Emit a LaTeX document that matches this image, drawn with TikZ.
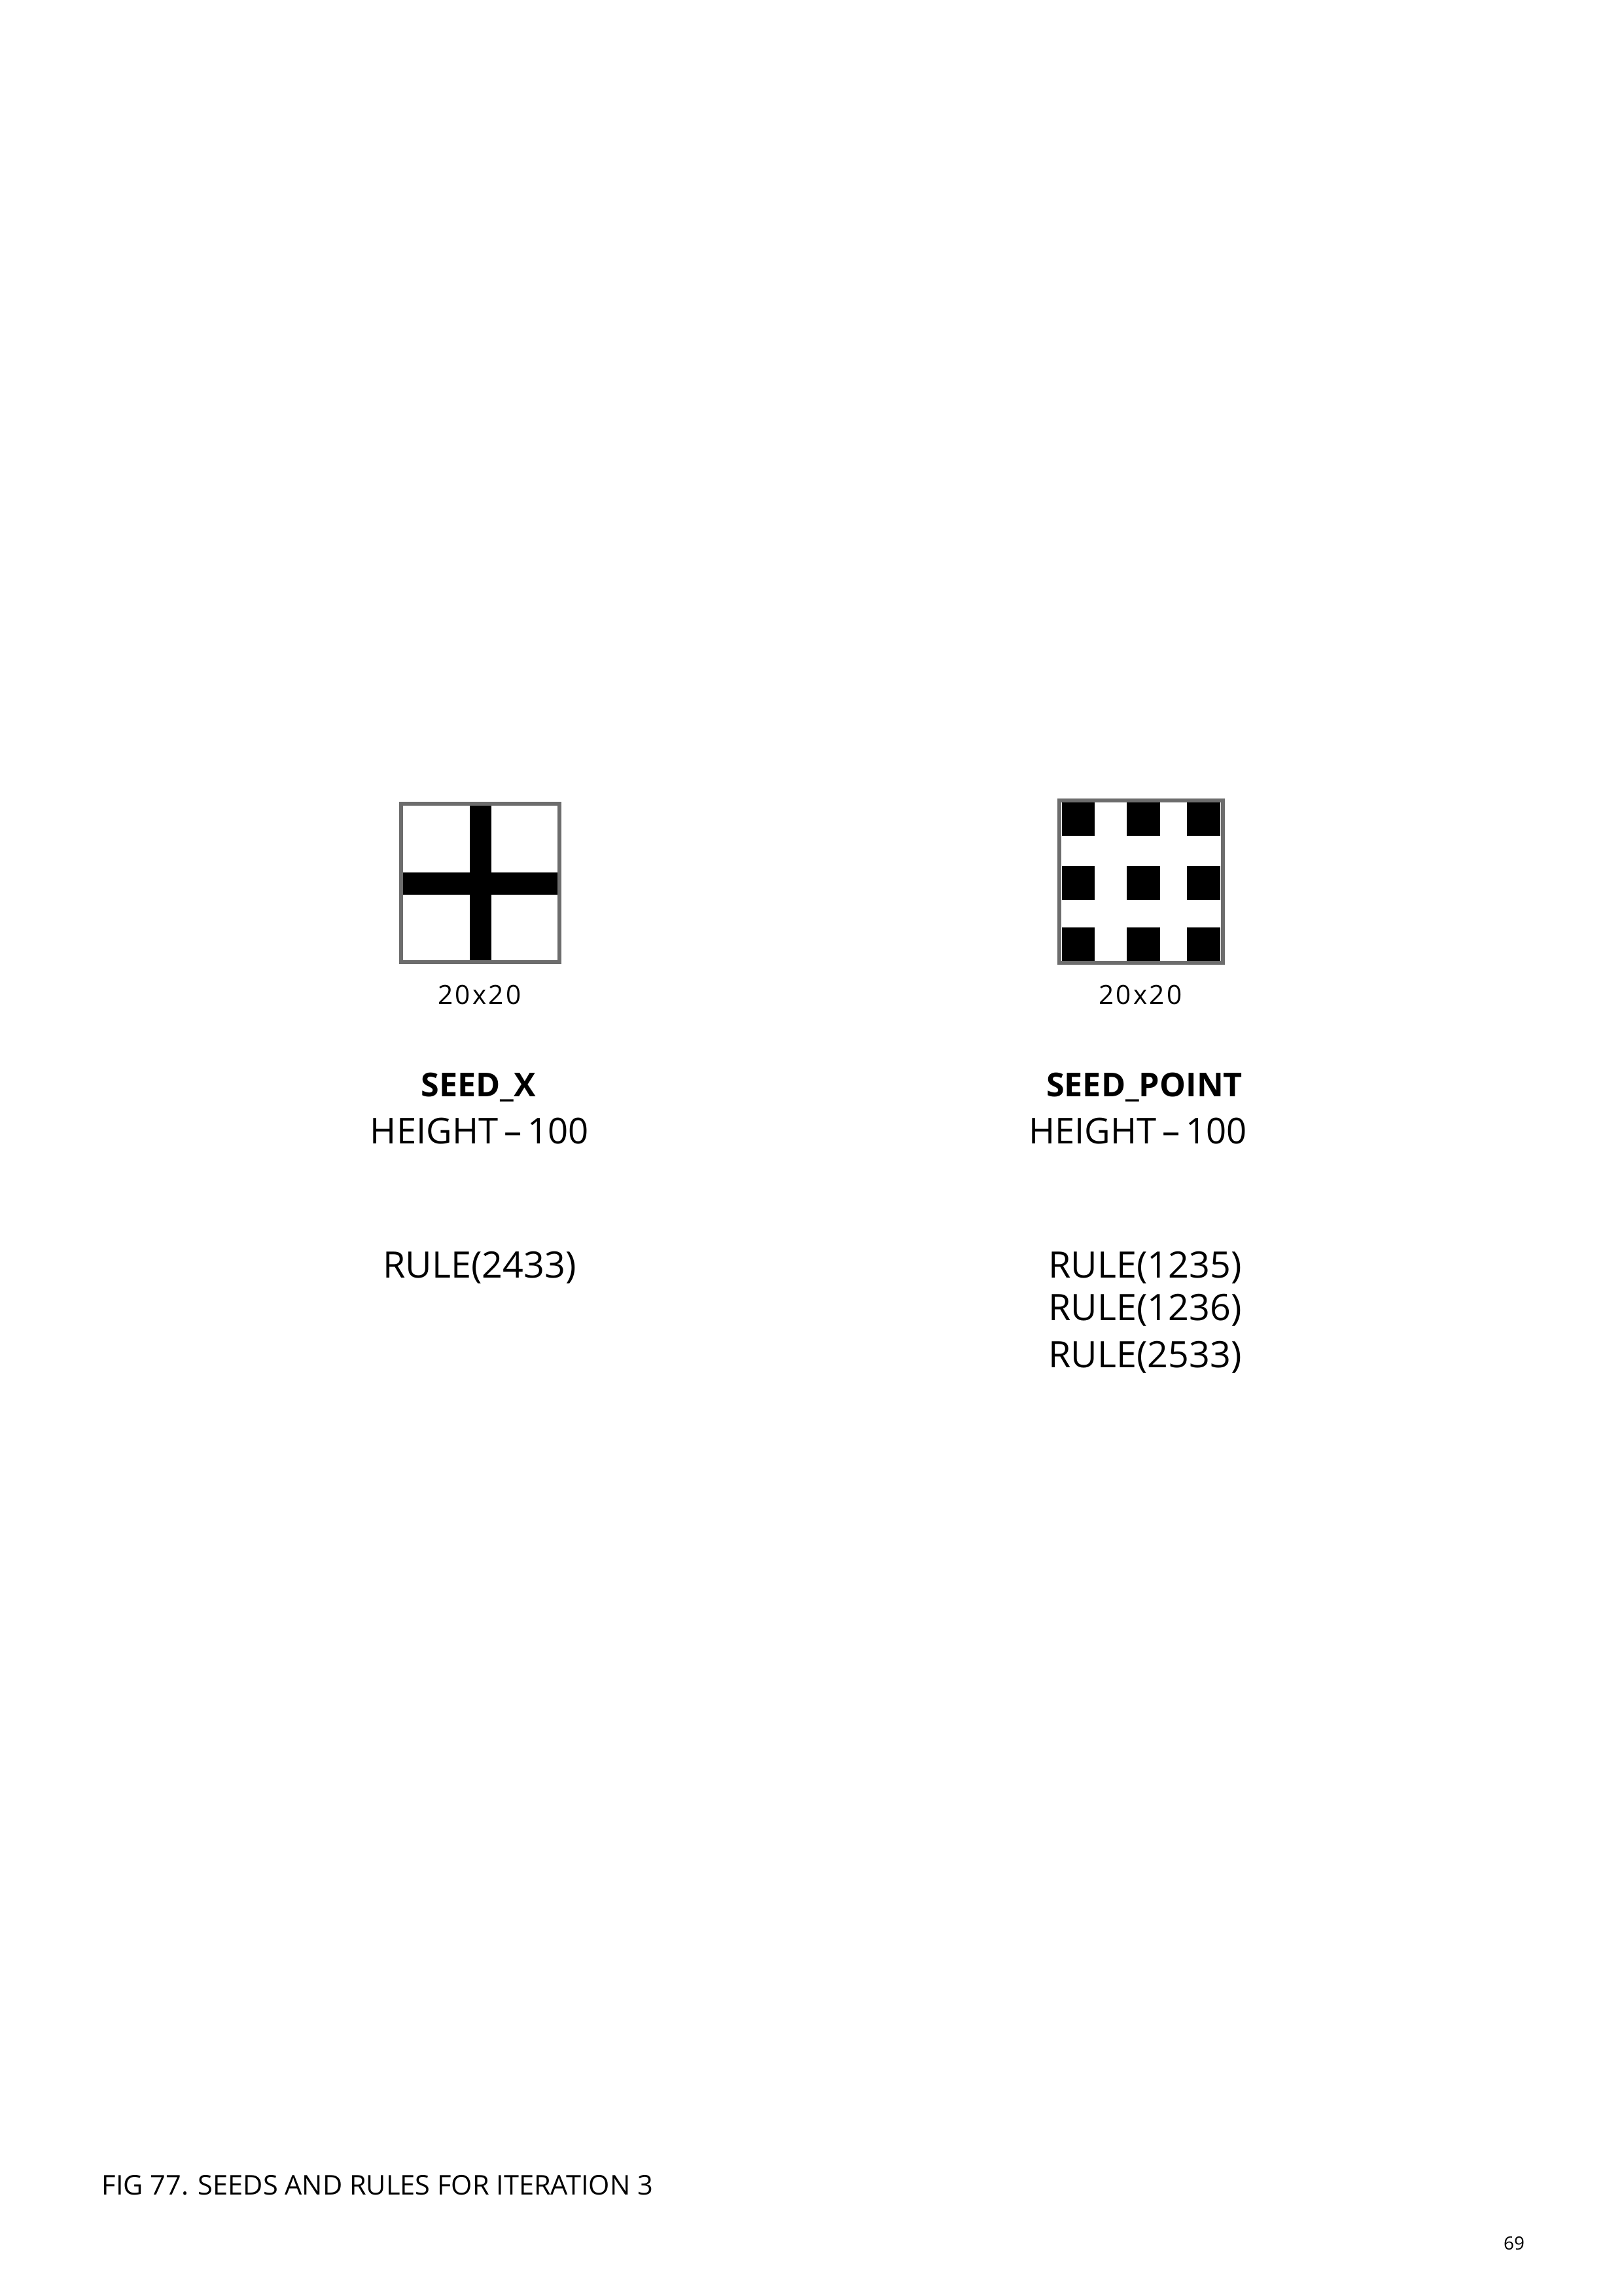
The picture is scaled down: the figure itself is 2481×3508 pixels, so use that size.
\documentclass[tikz,border=0pt]{standalone}
\usepackage{fontspec}
\setmainfont{Open Sans}
\usetikzlibrary{positioning}
\definecolor{framegray}{HTML}{6D6D6D}

\begin{document}
\begin{tikzpicture}[
    x=0.084643mm, y=-0.084643mm,
    seedbox/.style={draw=framegray, line width=1.45pt, inner sep=0pt},
    dimtext/.style={font=\fontsize{9.75}{11}\selectfont\addfontfeature{LetterSpace=8}, anchor=base},
    seedname/.style={font=\fontsize{12.1}{14}\selectfont\bfseries, anchor=base},
    heighttext/.style={font=\fontsize{13.1}{15}\selectfont, anchor=base},
    ruletext/.style={font=\fontsize{13.4}{16}\selectfont, anchor=base},
    captiontext/.style={font=\fontsize{10}{12}\selectfont, anchor=base west, inner sep=0pt}
]
    \fill[white] (0,0) rectangle (2481,3508);
    \useasboundingbox (0,0) rectangle (2481,3508);

    \fill (718,1231) rectangle (751,1467);
    \fill (616,1333) rectangle (852,1367);
    \node[seedbox, minimum width=20.48mm, minimum height=20.48mm] (seedx) at (734,1349) {};

    \foreach \xa/\xb in {1623/1673, 1722/1773, 1814/1865}
        \foreach \ya/\yb in {1226/1277, 1323/1375, 1417/1468}
            \fill (\xa,\ya) rectangle (\xb,\yb);
    \node[seedbox, minimum width=21.08mm, minimum height=20.99mm] (seedpoint) at (1744,1346.5) {};

    \node[dimtext] (dimx) at (733,1534) {20x20};
    \node[dimtext] (dimpoint) at (1743,1534) {20x20};

    \node[seedname] (namex) at (731,1675) {SEED\_X};
    \node[seedname] (namepoint) at (1749,1675) {SEED\_POINT};

    \node[heighttext] (heightx) at (733,1747) {HEIGHT\,–\,100};
    \node[heighttext] (heightpoint) at (1739,1747) {HEIGHT\,–\,100};

    \node[ruletext] (rulex) at (733,1952) {RULE(2433)};
    \node[ruletext] (rulea) at (1750,1952) {RULE(1235)};
    \node[ruletext] (ruleb) at (1750,2017) {RULE(1236)};
    \node[ruletext] (rulec) at (1750,2089) {RULE(2533)};

    \node[captiontext] (caption) at (155,3353) {FIG 77. SEEDS AND RULES FOR ITERATION 3};
    \node[font=\fontsize{6.7}{8}\selectfont, anchor=base] (pagenum) at (2314,3437) {69};
\end{tikzpicture}
\end{document}
